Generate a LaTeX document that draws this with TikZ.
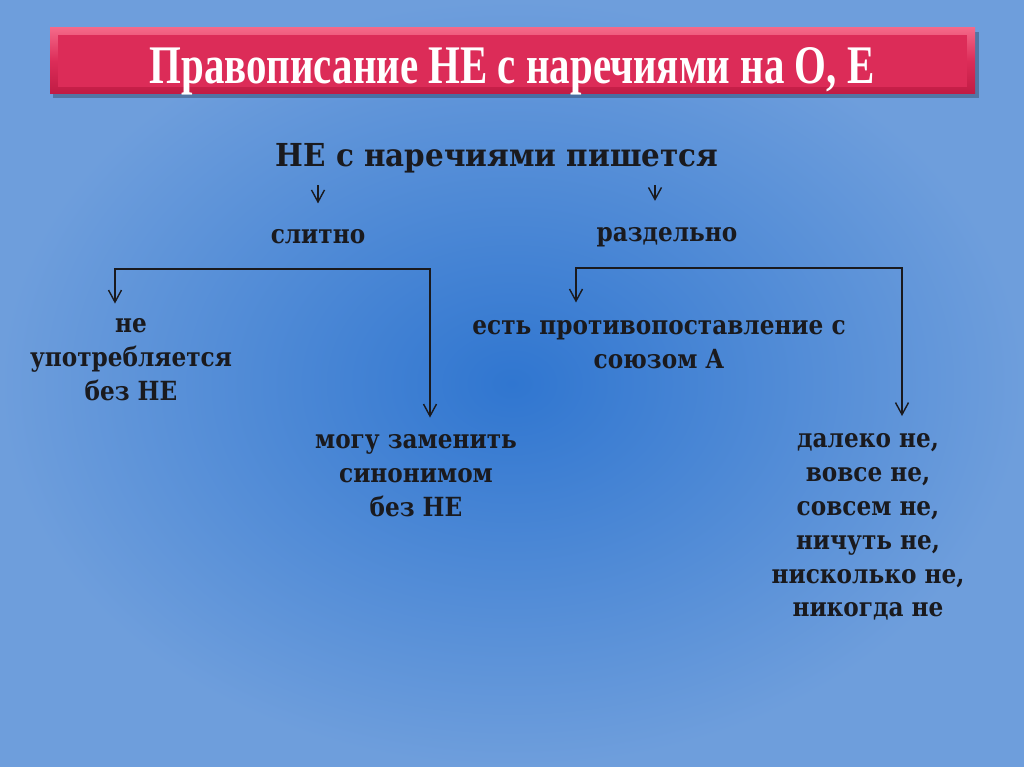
\documentclass[tikz,border=0pt]{standalone}
\usepackage{fontspec}
\usepackage{graphicx}
\setmainfont{DejaVu Serif}
\newfontfamily\titlefont{Liberation Serif}
\newfontfamily\itemfont{DejaVu Serif}[FakeStretch=0.88]
\newfontfamily\headfont{DejaVu Serif}[FakeStretch=0.93]
\usetikzlibrary{arrows.meta, positioning, calc}
\definecolor{slideBlue}{RGB}{48,118,208}
\definecolor{slideSky}{RGB}{110,158,220}
\definecolor{slideRose}{RGB}{220,44,88}
\definecolor{slideRoseLight}{RGB}{244,104,136}
\definecolor{slideRoseDark}{RGB}{192,28,68}
\definecolor{slideInk}{RGB}{26,26,30}

\begin{document}
\begin{tikzpicture}[x=0.02cm, y=-0.02cm,
    heading/.style={font=\headfont\bfseries\fontsize{18}{21}\selectfont, text=slideInk, inner sep=0pt},
    branch/.style={font=\itemfont\bfseries\fontsize{15}{19.3}\selectfont, text=slideInk, inner sep=0pt},
    item/.style={font=\itemfont\bfseries\fontsize{15}{19.3}\selectfont, text=slideInk, align=center, inner sep=0pt},
    arrow/.style={-{Straight Barb[length=2.4mm, width=2.6mm]}, line width=0.8pt, draw=slideInk}
  ]
  % background and banner
  \shade[inner color=slideBlue, outer color=slideSky] (0,0) rectangle (1024,767);
  \useasboundingbox (0,0) rectangle (1024,767);
  \fill[black, opacity=0.25] (53,32) rectangle (979,98);
  \shade[top color=slideRoseLight, bottom color=slideRoseDark, middle color=slideRose] (50,28) rectangle (975,94);
  \fill[slideRose] (58,35) rectangle (967,87);
  \node[text=white, inner sep=0pt, anchor=base] (title) at (512,84)
    {\resizebox{14.5cm}{0.72cm}{\titlefont\bfseries Правописание НЕ с наречиями на О, Е}};

  \node[heading] (rule) at (497,158) {НЕ с наречиями пишется};
  \node[branch] (slitno) at (318,237) {слитно};
  \node[branch] (razdelno) at (667,237) {раздельно};

  \node[item] (usage) at (131,360) {не\\употребляется\\без НЕ};
  \node[item] (synonym) at (416,476) {могу заменить\\синонимом\\без НЕ};
  \node[item] (contrast) at (659,345) {есть противопоставление с\\союзом А};
  \node[item] (list) at (868,527) {далеко не,\\вовсе не,\\совсем не,\\ничуть не,\\нисколько не,\\никогда не};

  \coordinate (lsplit) at (318,185);
  \coordinate (rsplit) at (655,185);
  \coordinate (lfork) at (115,269);
  \coordinate (lend) at (430,269);
  \coordinate (rfork) at (576,268);
  \coordinate (rend) at (902,268);

  \draw[arrow, shorten >=0.52cm] (lsplit) -- (lsplit |- slitno.north);
  \draw[arrow, shorten >=0.52cm] (rsplit) -- (rsplit |- razdelno.north);
  \draw[arrow, shorten >=0.3cm] (lend) -- (lfork) -- (lfork |- usage.north);
  \draw[arrow, shorten >=0.34cm] (lfork) -- (lend) -- (lend |- synonym.north);
  \draw[arrow, shorten >=0.36cm] (rend) -- (rfork) -- (rfork |- contrast.north);
  \draw[arrow, shorten >=0.34cm] (rfork) -- (rend) -- (rend |- list.north);
\end{tikzpicture}
\end{document}
